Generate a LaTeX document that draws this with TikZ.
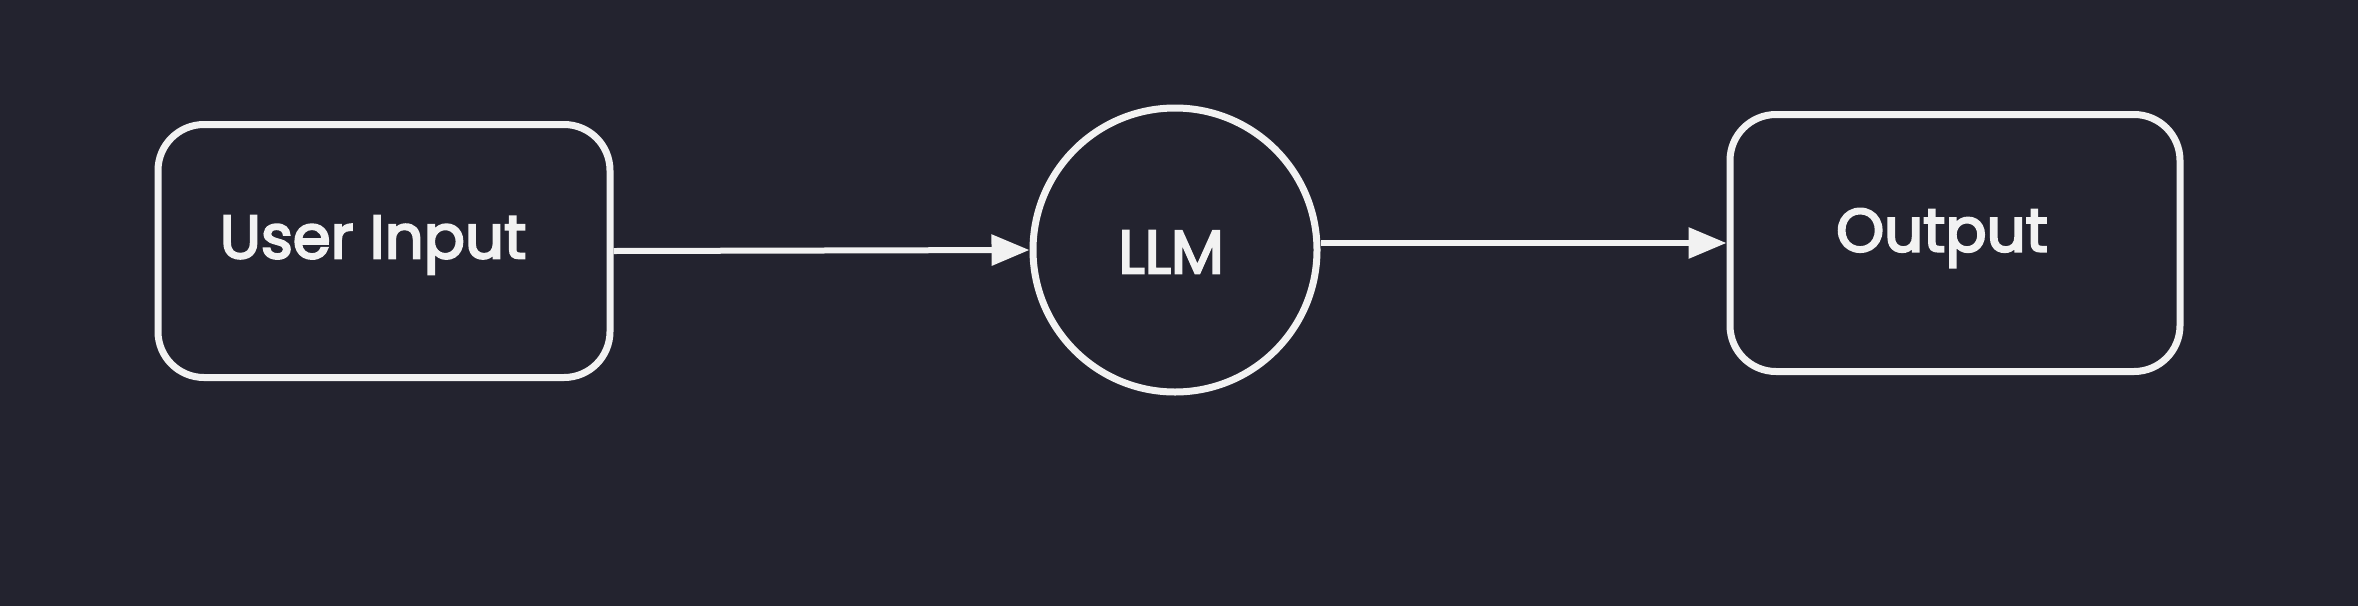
\documentclass[tikz,border=0pt]{standalone}
\usepackage{fontspec}
\setmainfont{Poppins}
\newfontfamily\lblfont{Poppins}[FakeBold=3.5,Kerning=Off]
\usetikzlibrary{arrows.meta}
\definecolor{bg}{HTML}{23232F}
\definecolor{fg}{HTML}{F2F2F2}
\begin{document}
\begin{tikzpicture}[x=1pt,y=-1pt,
  box/.style={draw=fg, line width=7pt, rounded corners=46pt, inner sep=0pt},
  circ/.style={draw=fg, line width=7pt, circle, inner sep=0pt, minimum size=284pt},
  lbl/.style={text=fg, font=\lblfont\fontsize{61}{72}\selectfont, inner sep=0pt},
  conn/.style={draw=fg, line width=6pt, -{Triangle[length=38pt,width=30pt]}}]
\fill[bg] (0,0) rectangle (2358,606);
\useasboundingbox (0,0) rectangle (2358,606);
\node[box, minimum width=452pt, minimum height=253pt] (ui) at (384,251) {};
\node[lbl] (uit) at (373,245) {User Input};
\node[circ] (llm) at (1175,250) {};
\node[lbl] (llmt) at (1171,252) {LLM};
\node[box, minimum width=450pt, minimum height=257pt] (out) at (1955,243) {};
\node[lbl] (outt) at (1942,238) {Output};
\draw[conn] (ui.east) -- (llm.west);
\draw[conn] (llm.east |- out.west) -- (out.west);
\end{tikzpicture}
\end{document}
